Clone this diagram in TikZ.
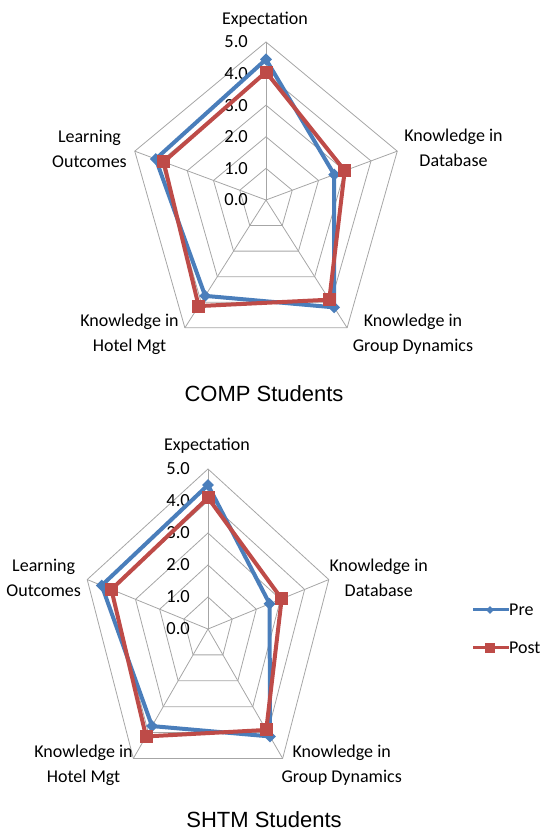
\documentclass[tikz,border=0pt]{standalone}
\usepackage{fontspec}
\setmainfont{Carlito}
\newfontfamily\titlefont{Liberation Sans}
\usetikzlibrary{shapes.geometric}

\definecolor{preblue}{HTML}{4A7EBB}
\definecolor{postred}{HTML}{BE4B48}
\definecolor{gridgray}{HTML}{A6A6A6}

\tikzset{
  gridline/.style={gridgray, line width=0.8pt},
  preline/.style={preblue, line width=4pt, line join=round},
  postline/.style={postred, line width=4pt, line join=round},
  premark/.style={diamond, fill=preblue, minimum size=12pt, inner sep=0pt},
  postmark/.style={rectangle, fill=postred, minimum size=13pt, inner sep=0pt},
  catlabel/.style={font=\fontsize{18}{25}\selectfont, align=center, inner sep=0pt},
  ticklabel/.style={font=\fontsize{18.5}{20}\selectfont, anchor=east, inner sep=0pt},
  legtext/.style={font=\fontsize{18}{20}\selectfont, anchor=west, inner sep=0pt},
  charttitle/.style={font=\titlefont\fontsize{22}{26}\selectfont, inner sep=0pt}
}

\begin{document}
\begin{tikzpicture}[x=1pt, y=1pt]
  \useasboundingbox (0,0) rectangle (542,833);

  % COMP students
  \begin{scope}[shift={(266,633)}, x=27.6pt, y=31.6pt]
    \foreach \r in {1,...,5}
      \draw[gridline] (90:\r) -- (18:\r) -- (-54:\r) -- (-126:\r) -- (162:\r) -- cycle;
    \foreach \a in {90,18,-54,-126,162}
      \draw[gridline] (0,0) -- (\a:5);
    \foreach \r in {0,...,5}
      \node[ticklabel] (comp-tick-\r) at ([xshift=-18pt]0,\r) {\r.0};

    \foreach \a/\v [count=\i] in {90/4.45, 18/2.6, -54/4.2, -126/3.75, 162/4.2}
      \coordinate (comp-pre-\i) at (\a:\v);
    \foreach \a/\v [count=\i] in {90/4.05, 18/3.0, -54/3.9, -126/4.15, 162/3.9}
      \coordinate (comp-post-\i) at (\a:\v);

    \draw[preline] (comp-pre-1) -- (comp-pre-2) -- (comp-pre-3) -- (comp-pre-4) -- (comp-pre-5) -- cycle;
    \foreach \i in {1,...,5}
      \node[premark] (comp-pre-mark-\i) at (comp-pre-\i) {};
    \draw[postline] (comp-post-1) -- (comp-post-2) -- (comp-post-3) -- (comp-post-4) -- (comp-post-5) -- cycle;
    \foreach \i in {1,...,5}
      \node[postmark] (comp-post-mark-\i) at (comp-post-\i) {};
  \end{scope}

  \node[catlabel] (comp-exp) at (265,813) {Expectation};
  \node[catlabel] (comp-db) at (453.5,685) {Knowledge in\\Database};
  \node[catlabel] (comp-gd) at (413,499) {Knowledge in\\Group Dynamics};
  \node[catlabel] (comp-hm) at (129.5,499) {Knowledge in\\Hotel Mgt};
  \node[catlabel] (comp-lo) at (89.5,684) {Learning\\Outcomes};
  \node[charttitle] (comp-title) at (264,439) {COMP Students};

  % SHTM students
  \begin{scope}[shift={(208,204)}, x=25.4pt, y=32pt]
    \foreach \r in {1,...,5}
      \draw[gridline] (90:\r) -- (18:\r) -- (-54:\r) -- (-126:\r) -- (162:\r) -- cycle;
    \foreach \a in {90,18,-54,-126,162}
      \draw[gridline] (0,0) -- (\a:5);
    \foreach \r in {0,...,5}
      \node[ticklabel] (shtm-tick-\r) at ([xshift=-18pt]0,\r) {\r.0};

    \foreach \a/\v [count=\i] in {90/4.5, 18/2.55, -54/4.15, -126/3.75, 162/4.4}
      \coordinate (shtm-pre-\i) at (\a:\v);
    \foreach \a/\v [count=\i] in {90/4.1, 18/3.05, -54/3.9, -126/4.15, 162/4.0}
      \coordinate (shtm-post-\i) at (\a:\v);

    \draw[preline] (shtm-pre-1) -- (shtm-pre-2) -- (shtm-pre-3) -- (shtm-pre-4) -- (shtm-pre-5) -- cycle;
    \foreach \i in {1,...,5}
      \node[premark] (shtm-pre-mark-\i) at (shtm-pre-\i) {};
    \draw[postline] (shtm-post-1) -- (shtm-post-2) -- (shtm-post-3) -- (shtm-post-4) -- (shtm-post-5) -- cycle;
    \foreach \i in {1,...,5}
      \node[postmark] (shtm-post-mark-\i) at (shtm-post-\i) {};
  \end{scope}

  \node[catlabel] (shtm-exp) at (207,387) {Expectation};
  \node[catlabel] (shtm-db) at (378.7,255.5) {Knowledge in\\Database};
  \node[catlabel] (shtm-gd) at (341.7,67.5) {Knowledge in\\Group Dynamics};
  \node[catlabel] (shtm-hm) at (83.5,67.5) {Knowledge in\\Hotel Mgt};
  \node[catlabel] (shtm-lo) at (43.7,255) {Learning\\Outcomes};
  \node[charttitle] (shtm-title) at (264,13) {SHTM Students};

  % legend
  \coordinate (leg-pre-start) at (473,223);
  \coordinate (leg-post-start) at (473,185);
  \node[legtext] (leg-pre) at (509,223) {Pre};
  \node[legtext] (leg-post) at (509,185) {Post};
  \draw[preline, line width=3pt] (leg-pre-start) -- (leg-pre.west);
  \node[premark, minimum size=8pt] (leg-pre-mark) at (490,223) {};
  \draw[postline, line width=3pt] (leg-post-start) -- (leg-post.west);
  \node[postmark, minimum size=10pt] (leg-post-mark) at (490,185) {};
\end{tikzpicture}
\end{document}
